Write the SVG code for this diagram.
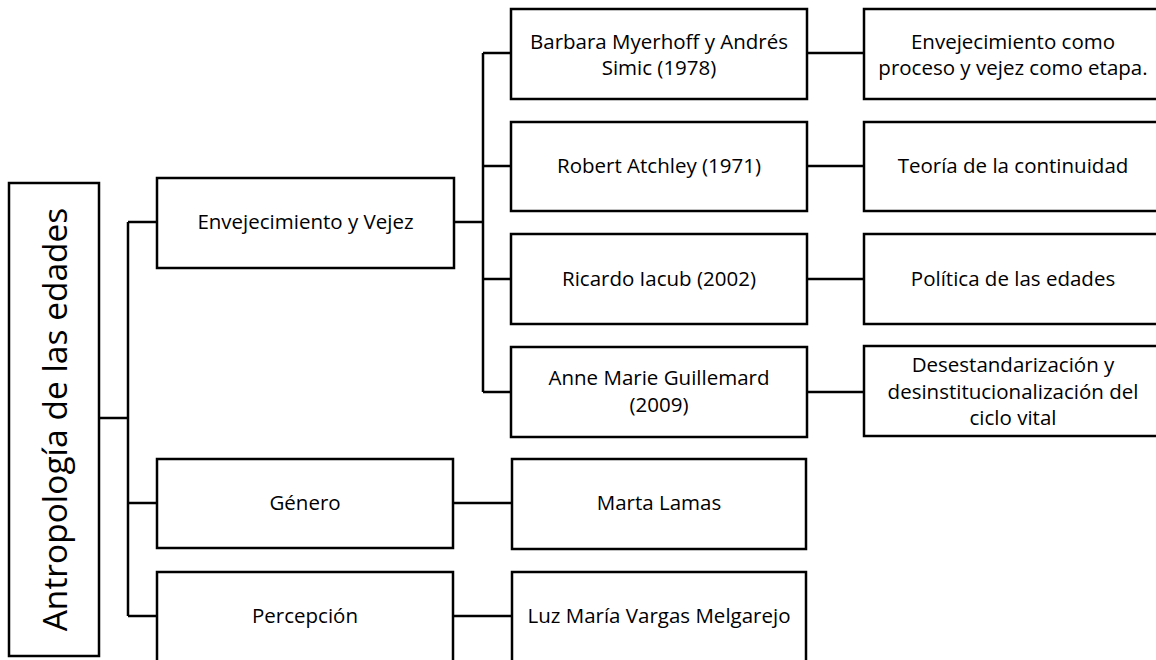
<svg xmlns="http://www.w3.org/2000/svg" width="1156" height="660" viewBox="0 0 1156 660">
<style>
.box{fill:#fff;stroke:#000;stroke-width:2.5}
.t{font-family:"Open Sans","Liberation Sans",sans-serif;font-size:20.5px;fill:#000;text-anchor:middle}
.root{font-family:"Open Sans","Liberation Sans",sans-serif;font-size:33.5px;fill:#000;text-anchor:middle}
.c{fill:none;stroke:#000;stroke-width:2.5}
</style>
<rect width="1156" height="660" fill="#fff"/>
<g id="connectors">
<path class="c" d="M99 418H128M128 222V616M128 222H157M128 503H157M128 616H157"/>
<path class="c" d="M454 222H483M483 53V392M483 53H511M483 166H511M483 279H511M483 392H511"/>
<path class="c" d="M807 53H864M807 166H864M807 279H864M807 392H864"/>
<path class="c" d="M453 503H512M453 616H512"/>
</g>
<g id="root"><rect class="box" x="9" y="183" width="90" height="473"/><text class="root" transform="translate(67,419.5) rotate(-90)">Antropología de las edades</text></g>
<g id="n-env"><rect class="box" x="157" y="178" width="297" height="90"/><text class="t" x="305.5" y="229">Envejecimiento y Vejez</text></g>
<g id="n-gen"><rect class="box" x="157" y="459" width="296" height="89"/><text class="t" x="305" y="510">Género</text></g>
<g id="n-per"><rect class="box" x="157" y="572" width="296" height="100"/><text class="t" x="305" y="623">Percepción</text></g>
<g id="n-bar"><rect class="box" x="511" y="9" width="296" height="90"/><text class="t" x="659" y="49">Barbara Myerhoff y Andrés</text><text class="t" x="659" y="75">Simic (1978)</text></g>
<g id="n-rob"><rect class="box" x="511" y="122" width="296" height="89"/><text class="t" x="659" y="173">Robert Atchley (1971)</text></g>
<g id="n-ric"><rect class="box" x="511" y="234" width="296" height="90"/><text class="t" x="659" y="286">Ricardo Iacub (2002)</text></g>
<g id="n-ann"><rect class="box" x="511" y="347" width="296" height="90"/><text class="t" x="659" y="385">Anne Marie Guillemard</text><text class="t" x="659" y="412">(2009)</text></g>
<g id="n-mar"><rect class="box" x="512" y="459" width="294" height="90"/><text class="t" x="659" y="510">Marta Lamas</text></g>
<g id="n-luz"><rect class="box" x="512" y="572" width="294" height="100"/><text class="t" x="659" y="623">Luz María Vargas Melgarejo</text></g>
<g id="n-env2"><rect class="box" x="864" y="9" width="298" height="90"/><text class="t" x="1013" y="49">Envejecimiento como</text><text class="t" x="1013" y="75">proceso y vejez como etapa.</text></g>
<g id="n-teo"><rect class="box" x="864" y="122" width="298" height="89"/><text class="t" x="1013" y="173">Teoría de la continuidad</text></g>
<g id="n-pol"><rect class="box" x="864" y="234" width="298" height="90"/><text class="t" x="1013" y="286">Política de las edades</text></g>
<g id="n-des"><rect class="box" x="864" y="346" width="298" height="90"/><text class="t" x="1013" y="372">Desestandarización y</text><text class="t" x="1013" y="398.5">desinstitucionalización del</text><text class="t" x="1013" y="425">ciclo vital</text></g>
</svg>
